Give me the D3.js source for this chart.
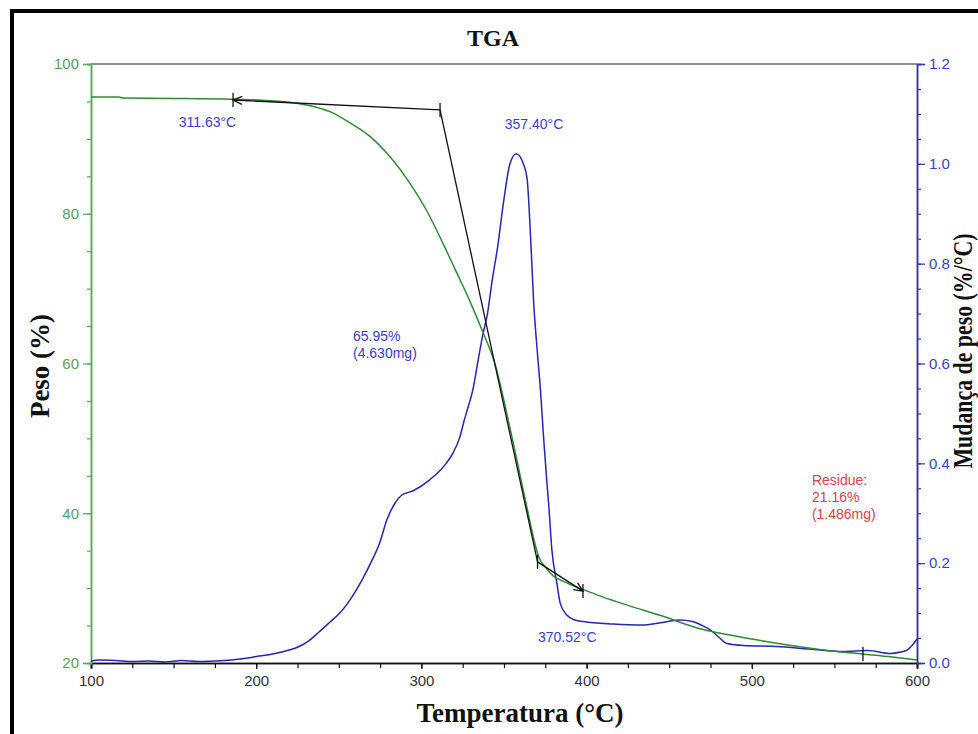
<!DOCTYPE html>
<html>
<head>
<meta charset="utf-8">
<script src="https://cdn.jsdelivr.net/npm/d3@7"></script>
<style>
  body { margin: 0; background: #fff; }
  svg { display: block; }
  text { font-family: "Liberation Sans", Arial, sans-serif; }
  .serif { font-family: "Liberation Serif", "Times New Roman", serif; font-weight: bold; }
</style>
</head>
<body>
<svg width="978" height="734"></svg>
<script>
"use strict";

// weight curve (Peso %) vs temperature
const weightTemp = [100, 117, 119, 150, 185, 200, 220, 235, 245, 257, 269, 281, 293, 303, 314, 321, 329, 337, 345, 350, 355, 360, 365, 368, 371, 375, 380, 386, 392, 398, 410, 425, 444, 470, 485, 500, 525, 549, 567, 585, 600];
const weightVal  = [95.6, 95.6, 95.45, 95.4, 95.3, 95.2, 94.9, 94.3, 93.6, 92.1, 90.3, 87.6, 84.1, 80.5, 75.6, 72.3, 68.5, 64.3, 59.6, 55.0, 50.0, 44.8, 39.6, 36.6, 34.2, 32.8, 31.6, 30.9, 30.3, 29.8, 28.8, 27.7, 26.4, 24.5, 23.8, 23.2, 22.3, 21.6, 21.2, 20.8, 20.4];

// derivative curve (Mudança de peso %/°C) vs temperature
const derivTemp = [100, 105, 115, 125, 135, 145, 155, 165, 175, 185, 195, 200, 210, 220, 226, 232, 238, 245, 250, 255, 260, 265, 270, 275, 279, 284, 288, 295, 305, 315, 319, 323, 326, 328, 331, 334, 337, 340, 343, 346, 350, 353.6, 357.4, 361.7, 364, 366, 368, 370, 372, 374, 376, 377, 379, 382, 384, 388, 393, 398, 416, 434, 444, 456, 464, 470, 475, 480, 485, 495, 515, 535, 555, 570, 584, 590, 594, 597, 600];
const derivVal  = [0.004, 0.006, 0.005, 0.003, 0.004, 0.002, 0.005, 0.003, 0.004, 0.006, 0.010, 0.013, 0.018, 0.026, 0.033, 0.045, 0.062, 0.083, 0.098, 0.118, 0.143, 0.172, 0.205, 0.243, 0.286, 0.32, 0.336, 0.345, 0.367, 0.40, 0.42, 0.45, 0.487, 0.51, 0.545, 0.60, 0.655, 0.70, 0.77, 0.83, 0.93, 1.0, 1.02, 1.0, 0.97, 0.86, 0.72, 0.63, 0.55, 0.45, 0.36, 0.32, 0.226, 0.16, 0.12, 0.096, 0.086, 0.083, 0.078, 0.076, 0.080, 0.086, 0.083, 0.075, 0.066, 0.052, 0.039, 0.035, 0.033, 0.028, 0.023, 0.025, 0.019, 0.022, 0.026, 0.035, 0.048];

// onset construction (temperature, weight)
const baseLine  = [[311.3, 93.86], [186.0, 95.19]];
const stepLine  = [[311.3, 93.86], [370.3, 33.5]];
const endLine   = [[370.3, 33.5], [397.8, 29.6]];
const markTicks = [[186.0, 95.19], [311.3, 93.86], [370.3, 33.5], [397.8, 29.6], [567.3, 21.2]];

// axis ticks
const xMajor = [100, 200, 300, 400, 500, 600];
const xMinor = d3.range(100, 601, 25);
const yMajor = [20, 40, 60, 80, 100];
const yMinor = d3.range(20, 101, 5);
const y2Major = [0, 0.2, 0.4, 0.6, 0.8, 1.0, 1.2];
const y2Minor = d3.range(0, 1.201, 0.05);

// annotations: [temperature, weight, lines, colour, anchor]
const notes = [
    [170.5, 91.6, ["311.63°C"], "blue", "middle"],
    [368.2, 91.3, ["357.40°C"], "blue", "middle"],
    [258.6, 63.0, ["65.95%", "(4.630mg)"], "blue", "start"],
    [370.6, 22.8, ["370.52°C"], "blue", "start"],
    [536.4, 43.8, ["Residue:", "21.16%", "(1.486mg)"], "red", "start"]
];

const colors = {
    green: "#2f8a35", greenAxis: "#5ea65e", greenText: "#5f9a5f",
    blue: "#2626b4", blueText: "#3c3cd0", red: "#e2404a", black: "#111"
};

const svg = d3.select("svg");
const plotL = 91, plotR = 917, plotT = 64, plotB = 663;

const x = d3.scaleLinear().domain([100, 600]).range([plotL, plotR]);
const y = d3.scaleLinear().domain([20, 100]).range([plotB, plotT]);
const y2 = d3.scaleLinear().domain([0, 1.2]).range([plotB, plotT]);

svg.append("rect").attr("width", 978).attr("height", 734).attr("fill", "#fff");

// outer frame
svg.append("rect").attr("x", 10).attr("y", 9).attr("width", 968).attr("height", 4).attr("fill", "#000");
svg.append("rect").attr("x", 10).attr("y", 9).attr("width", 4).attr("height", 725).attr("fill", "#000");

// top frame line
svg.append("line")
    .attr("x1", plotL).attr("x2", plotR).attr("y1", plotT).attr("y2", plotT)
    .attr("stroke", "#222").attr("stroke-width", 1.2);

// title
svg.append("text").attr("class", "serif")
    .attr("x", 493).attr("y", 46).attr("text-anchor", "middle")
    .attr("font-size", 24).attr("fill", "#111").text("TGA");

function styleAxis(g, color, textColor) {
    g.select(".domain").attr("stroke", color).attr("stroke-width", 1.5);
    g.selectAll(".tick line").attr("stroke", color).attr("stroke-width", 1.2);
    g.selectAll(".tick text").attr("fill", textColor).attr("font-size", 15)
        .attr("font-family", "'Liberation Sans', Arial, sans-serif");
}

// x axis
svg.append("g").attr("transform", `translate(0,${plotB})`)
    .call(d3.axisBottom(x).tickValues(xMinor).tickSize(5).tickFormat(""))
    .call(g => styleAxis(g, "#111", "#333"));
svg.append("g").attr("transform", `translate(0,${plotB})`)
    .call(d3.axisBottom(x).tickValues(xMajor).tickSize(6).tickPadding(6).tickFormat(d3.format("d")))
    .call(g => styleAxis(g, "#111", "#333"));

// left axis
svg.append("g").attr("transform", `translate(${plotL},0)`)
    .call(d3.axisLeft(y).tickValues(yMinor).tickSize(4).tickFormat(""))
    .call(g => styleAxis(g, colors.greenAxis, colors.greenText));
svg.append("g").attr("transform", `translate(${plotL},0)`)
    .call(d3.axisLeft(y).tickValues(yMajor).tickSize(8).tickPadding(4).tickFormat(d3.format("d")))
    .call(g => styleAxis(g, colors.greenAxis, colors.greenText));

// right axis
svg.append("g").attr("transform", `translate(${plotR},0)`)
    .call(d3.axisRight(y2).tickValues(y2Minor).tickSize(4).tickFormat(""))
    .call(g => styleAxis(g, "#3333b0", colors.blueText));
svg.append("g").attr("transform", `translate(${plotR},0)`)
    .call(d3.axisRight(y2).tickValues(y2Major).tickSize(8).tickPadding(4).tickFormat(d3.format(".1f")))
    .call(g => styleAxis(g, "#3333b0", colors.blueText));

// axis titles
svg.append("text").attr("class", "serif")
    .attr("transform", "translate(49,366) rotate(-90)")
    .attr("text-anchor", "middle").attr("font-size", 27).attr("fill", "#111")
    .text("Peso (%)");
svg.append("text").attr("class", "serif")
    .attr("transform", "translate(972,351) rotate(-90)")
    .attr("text-anchor", "middle").attr("font-size", 27).attr("fill", "#111")
    .attr("textLength", 235).attr("lengthAdjust", "spacingAndGlyphs")
    .text("Mudança de peso (%/°C)");
svg.append("text").attr("class", "serif")
    .attr("x", 520).attr("y", 722)
    .attr("text-anchor", "middle").attr("font-size", 27).attr("fill", "#111")
    .text("Temperatura (°C)");

// curves
const weightData = weightTemp.map((t, i) => [t, weightVal[i]]);
const derivData = derivTemp.map((t, i) => [t, derivVal[i]]);

svg.append("path").datum(derivData)
    .attr("fill", "none").attr("stroke", colors.blue).attr("stroke-width", 1.5)
    .attr("d", d3.line().x(d => x(d[0])).y(d => y2(d[1])).curve(d3.curveMonotoneX));

svg.append("path").datum(weightData)
    .attr("fill", "none").attr("stroke", colors.green).attr("stroke-width", 1.5)
    .attr("d", d3.line().x(d => x(d[0])).y(d => y(d[1])).curve(d3.curveMonotoneX));

// arrow marker
svg.append("defs").append("marker")
    .attr("id", "arrow").attr("viewBox", "-10 -6 12 12")
    .attr("markerWidth", 12).attr("markerHeight", 12)
    .attr("markerUnits", "userSpaceOnUse").attr("orient", "auto")
    .append("path").attr("d", "M-9,-4 L0,0 L-9,4")
    .attr("fill", "none").attr("stroke", colors.black).attr("stroke-width", 1.3);

const line = d3.line().x(d => x(d[0])).y(d => y(d[1]));
[baseLine, stepLine, endLine].forEach((seg, i) => {
    svg.append("path").datum(seg)
        .attr("fill", "none").attr("stroke", colors.black).attr("stroke-width", 1.3)
        .attr("marker-end", i == 1 ? null : "url(#arrow)")
        .attr("d", line);
});

svg.selectAll("line.mark").data(markTicks).enter().append("line")
    .attr("class", "mark")
    .attr("x1", d => x(d[0])).attr("x2", d => x(d[0]))
    .attr("y1", d => y(d[1]) - 7).attr("y2", d => y(d[1]) + 7)
    .attr("stroke", colors.black).attr("stroke-width", 1.3);

// annotations
notes.forEach(n => {
    let t = svg.append("text")
        .attr("x", x(n[0])).attr("y", y(n[1]))
        .attr("text-anchor", n[4]).attr("font-size", 14)
        .attr("fill", n[3] == "red" ? colors.red : colors.blueText);
    n[2].forEach((s, i) => {
        t.append("tspan").attr("x", x(n[0])).attr("dy", i ? 17 : 0).text(s);
    });
});
</script>
</body>
</html>
